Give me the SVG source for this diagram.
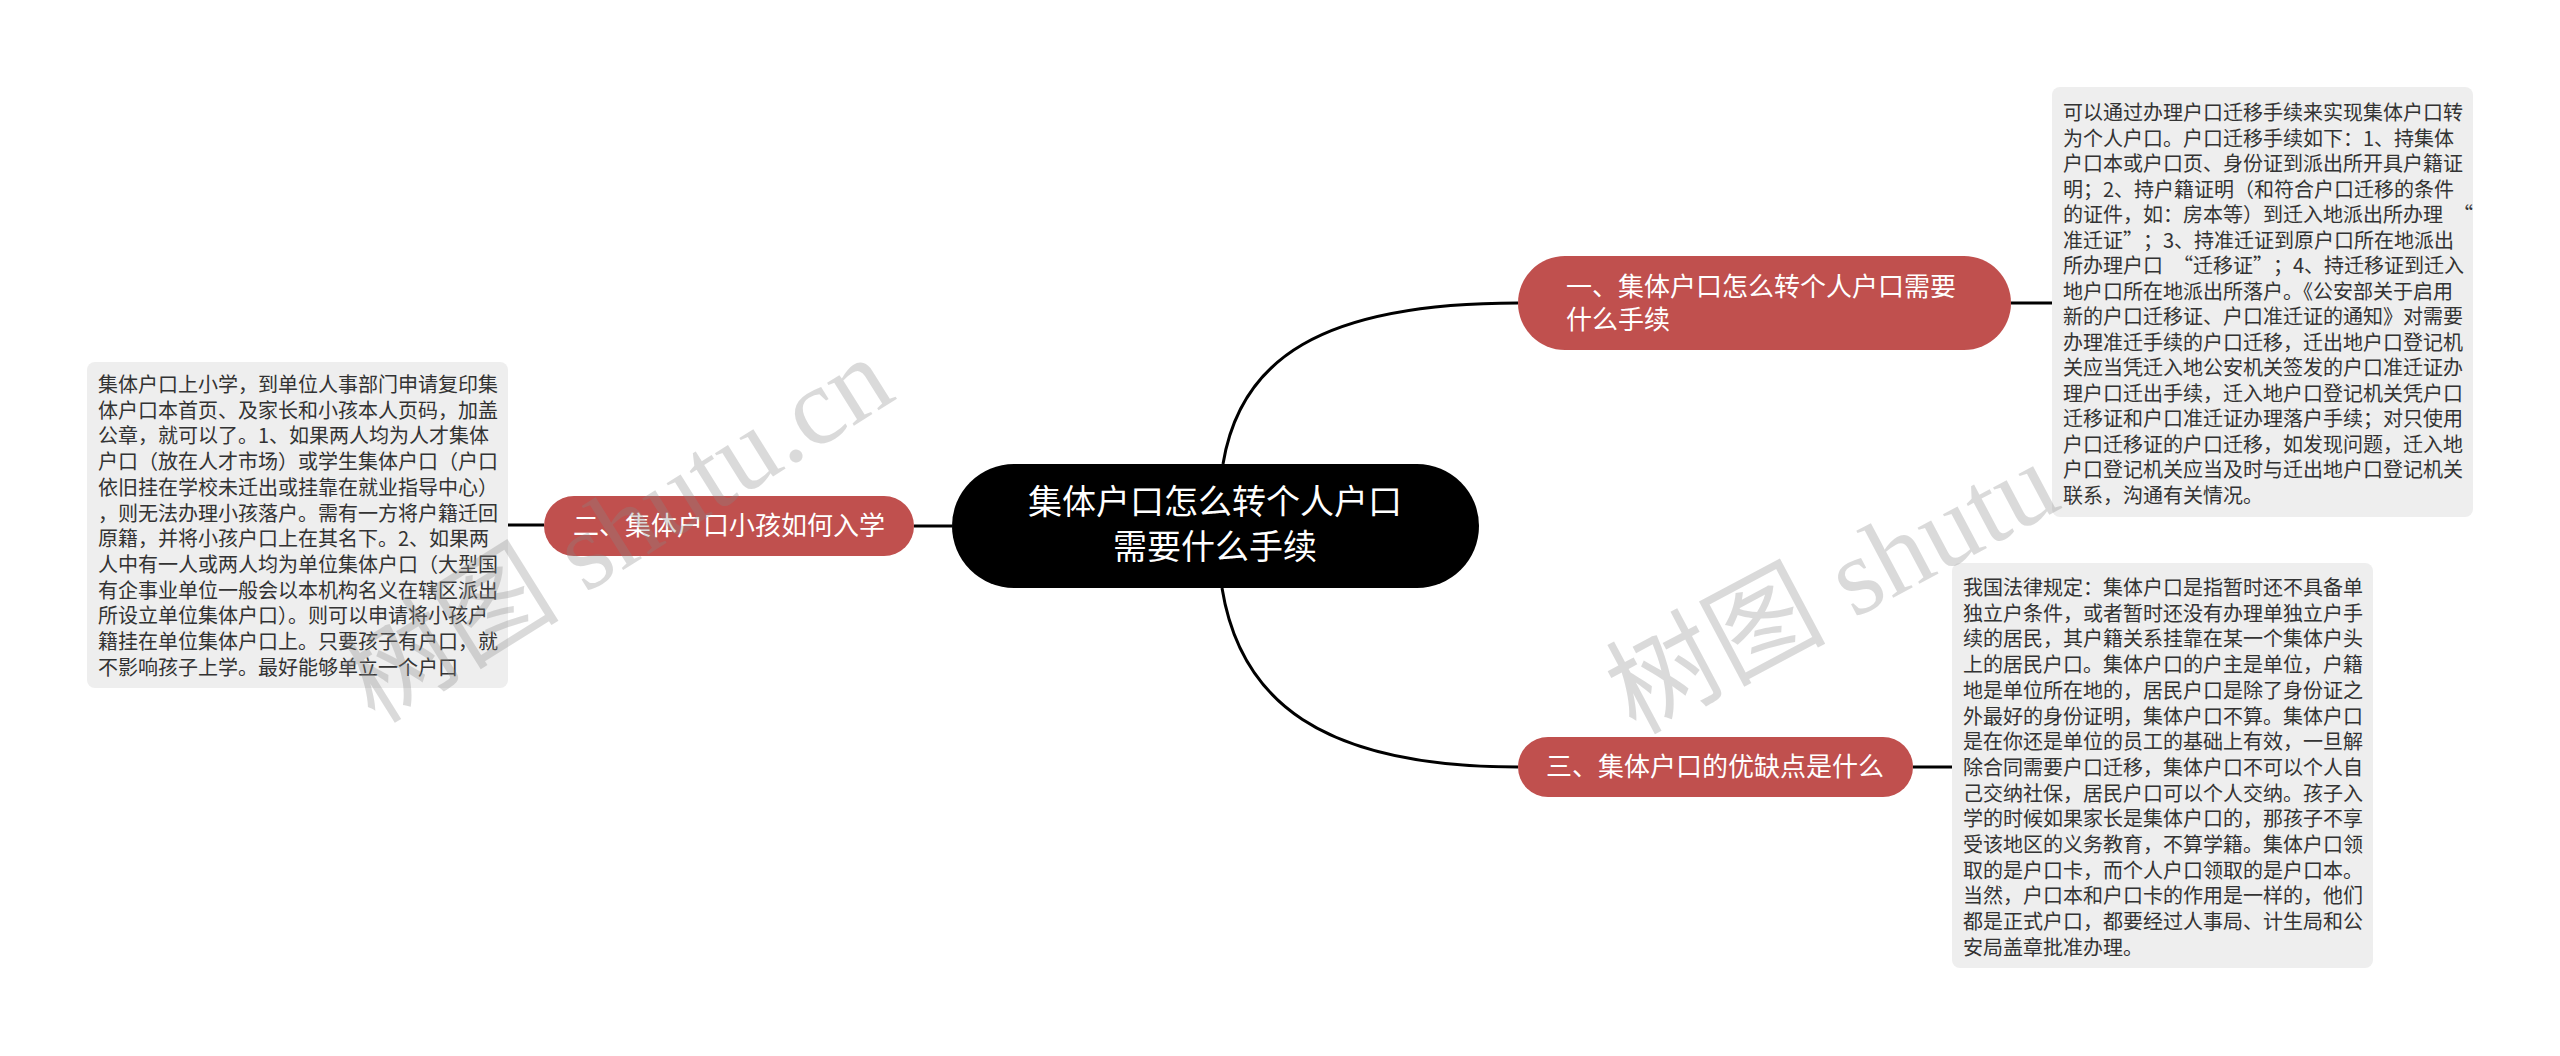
<svg xmlns="http://www.w3.org/2000/svg" width="2560" height="1056" viewBox="0 0 2560 1056">
<style>
.bg{fill:#ffffff}
.conn{fill:none;stroke:#000;stroke-width:3}
.root{fill:#000}
.rootT{fill:#fff;font-family:"Noto Sans CJK SC","Noto Sans",sans-serif;font-size:34px;text-anchor:middle}
.br{fill:#c0504e}
.brT{fill:#fff;font-family:"Noto Sans CJK SC","Noto Sans",sans-serif;font-size:26px}
.box{fill:#eeeeee}
.boxT{fill:#333;font-family:"Noto Sans CJK SC","Noto Sans",sans-serif;font-size:20px}
.wm{fill:#888;opacity:0.3;font-family:"Liberation Serif","Noto Sans CJK SC",serif;font-size:110px}
</style>
<rect class="bg" x="0" y="0" width="2560" height="1056"/>
<g id="connectors">
<path class="conn" d="M1223 464 C1240 360 1320 303 1518 303"/>
<path class="conn" d="M1222 588 C1240 700 1320 767 1518 767"/>
<path class="conn" d="M952 526 L914 526"/>
<path class="conn" d="M2011 303 L2052 303"/>
<path class="conn" d="M1913 767 L1952 767"/>
<path class="conn" d="M544 525 L508 525"/>
</g>
<g id="root">
<rect class="root" x="952" y="464" width="527" height="124" rx="62"/>
<text class="rootT"><tspan x="1215" y="514">集体户口怎么转个人户口</tspan><tspan x="1215" y="559">需要什么手续</tspan></text>
</g>
<g id="branch1">
<rect class="br" x="1518" y="256" width="493" height="94" rx="47"/>
<text class="brT"><tspan x="1566" y="296">一、集体户口怎么转个人户口需要</tspan><tspan x="1566" y="329">什么手续</tspan></text>
</g>
<g id="branch2">
<rect class="br" x="544" y="496" width="370" height="60" rx="30"/>
<text class="brT" text-anchor="middle" x="729" y="535">二、集体户口小孩如何入学</text>
</g>
<g id="branch3">
<rect class="br" x="1518" y="737" width="395" height="60" rx="30"/>
<text class="brT" text-anchor="middle" x="1715" y="776">三、集体户口的优缺点是什么</text>
</g>
<g id="detail1">
<rect class="box" x="2052" y="87" width="421" height="430" rx="8"/>
<text class="boxT">
<tspan x="2063" y="120">可以通过办理户口迁移手续来实现集体户口转</tspan>
<tspan x="2063" y="145.5">为个人户口。户口迁移手续如下：1、持集体</tspan>
<tspan x="2063" y="171">户口本或户口页、身份证到派出所开具户籍证</tspan>
<tspan x="2063" y="196.5">明；2、持户籍证明（和符合户口迁移的条件</tspan>
<tspan x="2063" y="222">的证件，如：房本等）到迁入地派出所办理<tspan dx="10">“</tspan></tspan>
<tspan x="2063" y="247.5">准迁证”<tspan dx="10">；</tspan>3、持准迁证到原户口所在地派出</tspan>
<tspan x="2063" y="273">所办理户口<tspan dx="10">“</tspan>迁移证”<tspan dx="10">；</tspan>4、持迁移证到迁入</tspan>
<tspan x="2063" y="298.5">地户口所在地派出所落户。《公安部关于启用</tspan>
<tspan x="2063" y="324">新的户口迁移证、户口准迁证的通知》对需要</tspan>
<tspan x="2063" y="349.5">办理准迁手续的户口迁移，迁出地户口登记机</tspan>
<tspan x="2063" y="375">关应当凭迁入地公安机关签发的户口准迁证办</tspan>
<tspan x="2063" y="400.5">理户口迁出手续，迁入地户口登记机关凭户口</tspan>
<tspan x="2063" y="426">迁移证和户口准迁证办理落户手续；对只使用</tspan>
<tspan x="2063" y="451.5">户口迁移证的户口迁移，如发现问题，迁入地</tspan>
<tspan x="2063" y="477">户口登记机关应当及时与迁出地户口登记机关</tspan>
<tspan x="2063" y="502.5">联系，沟通有关情况。</tspan>
</text>
</g>
<g id="detail3">
<rect class="box" x="1952" y="563" width="421" height="405" rx="8"/>
<text class="boxT">
<tspan x="1963" y="595">我国法律规定：集体户口是指暂时还不具备单</tspan>
<tspan x="1963" y="620.7">独立户条件，或者暂时还没有办理单独立户手</tspan>
<tspan x="1963" y="646.4">续的居民，其户籍关系挂靠在某一个集体户头</tspan>
<tspan x="1963" y="672.1">上的居民户口。集体户口的户主是单位，户籍</tspan>
<tspan x="1963" y="697.8">地是单位所在地的，居民户口是除了身份证之</tspan>
<tspan x="1963" y="723.5">外最好的身份证明，集体户口不算。集体户口</tspan>
<tspan x="1963" y="749.2">是在你还是单位的员工的基础上有效，一旦解</tspan>
<tspan x="1963" y="774.9">除合同需要户口迁移，集体户口不可以个人自</tspan>
<tspan x="1963" y="800.6">己交纳社保，居民户口可以个人交纳。孩子入</tspan>
<tspan x="1963" y="826.3">学的时候如果家长是集体户口的，那孩子不享</tspan>
<tspan x="1963" y="852">受该地区的义务教育，不算学籍。集体户口领</tspan>
<tspan x="1963" y="877.7">取的是户口卡，而个人户口领取的是户口本。</tspan>
<tspan x="1963" y="903.4">当然，户口本和户口卡的作用是一样的，他们</tspan>
<tspan x="1963" y="929.1">都是正式户口，都要经过人事局、计生局和公</tspan>
<tspan x="1963" y="954.8">安局盖章批准办理。</tspan>
</text>
</g>
<g id="detail2">
<rect class="box" x="87" y="362" width="421" height="326" rx="8"/>
<text class="boxT">
<tspan x="98" y="392">集体户口上小学，到单位人事部门申请复印集</tspan>
<tspan x="98" y="417.7">体户口本首页、及家长和小孩本人页码，加盖</tspan>
<tspan x="98" y="443.4">公章，就可以了。1、如果两人均为人才集体</tspan>
<tspan x="98" y="469.1">户口（放在人才市场）或学生集体户口（户口</tspan>
<tspan x="98" y="494.8">依旧挂在学校未迁出或挂靠在就业指导中心）</tspan>
<tspan x="98" y="520.5">，则无法办理小孩落户。需有一方将户籍迁回</tspan>
<tspan x="98" y="546.2">原籍，并将小孩户口上在其名下。2、如果两</tspan>
<tspan x="98" y="571.9">人中有一人或两人均为单位集体户口（大型国</tspan>
<tspan x="98" y="597.6">有企事业单位一般会以本机构名义在辖区派出</tspan>
<tspan x="98" y="623.3">所设立单位集体户口）。则可以申请将小孩户</tspan>
<tspan x="98" y="649">籍挂在单位集体户口上。只要孩子有户口，就</tspan>
<tspan x="98" y="674.7">不影响孩子上学。最好能够单立一个户口</tspan>
</text>
</g>
<g id="watermarks">
<text class="wm" transform="translate(375 725) rotate(-32)">树图 shutu.cn</text>
<text class="wm" transform="translate(1635 735) rotate(-28)">树图 shutu</text>
</g>
</svg>
